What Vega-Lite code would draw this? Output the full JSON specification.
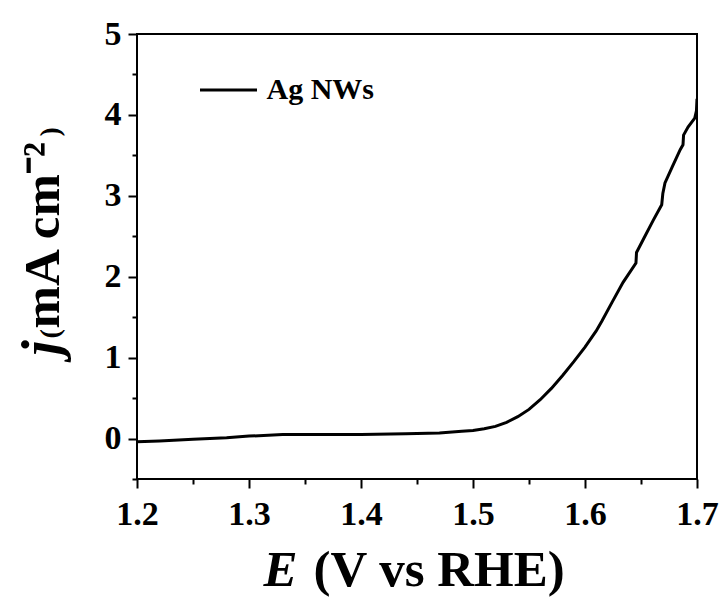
{
  "$schema": "https://vega.github.io/schema/vega-lite/v6.json",
  "width": 560,
  "height": 445,
  "autosize": "none",
  "padding": {"left": 137, "top": 34, "right": 24, "bottom": 122},
  "background": "white",
  "config": {
    "font": "Liberation Serif",
    "view": {"stroke": "black", "strokeWidth": 2},
    "axis": {
      "domain": false,
      "grid": false,
      "tickColor": "black",
      "tickWidth": 2,
      "labelFont": "Liberation Serif",
      "labelFontWeight": "bold",
      "labelColor": "black",
      "labelFlush": false,
      "labelOverlap": false,
      "labelBound": false,
      "titleFont": "Liberation Serif",
      "titleFontWeight": "bold",
      "titleColor": "black"
    }
  },
  "data": {
    "values": [
      {"E_V": 1.20, "j": -0.04, "series": "Ag NWs"},
      {"E_V": 1.22, "j": -0.03, "series": "Ag NWs"},
      {"E_V": 1.25, "j": -0.01, "series": "Ag NWs"},
      {"E_V": 1.28, "j": 0.01, "series": "Ag NWs"},
      {"E_V": 1.30, "j": 0.03, "series": "Ag NWs"},
      {"E_V": 1.33, "j": 0.05, "series": "Ag NWs"},
      {"E_V": 1.36, "j": 0.05, "series": "Ag NWs"},
      {"E_V": 1.40, "j": 0.05, "series": "Ag NWs"},
      {"E_V": 1.44, "j": 0.06, "series": "Ag NWs"},
      {"E_V": 1.47, "j": 0.07, "series": "Ag NWs"},
      {"E_V": 1.49, "j": 0.09, "series": "Ag NWs"},
      {"E_V": 1.50, "j": 0.10, "series": "Ag NWs"},
      {"E_V": 1.51, "j": 0.12, "series": "Ag NWs"},
      {"E_V": 1.52, "j": 0.15, "series": "Ag NWs"},
      {"E_V": 1.53, "j": 0.20, "series": "Ag NWs"},
      {"E_V": 1.54, "j": 0.27, "series": "Ag NWs"},
      {"E_V": 1.55, "j": 0.36, "series": "Ag NWs"},
      {"E_V": 1.56, "j": 0.48, "series": "Ag NWs"},
      {"E_V": 1.57, "j": 0.62, "series": "Ag NWs"},
      {"E_V": 1.58, "j": 0.78, "series": "Ag NWs"},
      {"E_V": 1.59, "j": 0.95, "series": "Ag NWs"},
      {"E_V": 1.60, "j": 1.13, "series": "Ag NWs"},
      {"E_V": 1.61, "j": 1.33, "series": "Ag NWs"},
      {"E_V": 1.615, "j": 1.45, "series": "Ag NWs"},
      {"E_V": 1.624, "j": 1.68, "series": "Ag NWs"},
      {"E_V": 1.634, "j": 1.93, "series": "Ag NWs"},
      {"E_V": 1.6455, "j": 2.17, "series": "Ag NWs"},
      {"E_V": 1.646, "j": 2.30, "series": "Ag NWs"},
      {"E_V": 1.652, "j": 2.46, "series": "Ag NWs"},
      {"E_V": 1.661, "j": 2.70, "series": "Ag NWs"},
      {"E_V": 1.6685, "j": 2.89, "series": "Ag NWs"},
      {"E_V": 1.6695, "j": 3.03, "series": "Ag NWs"},
      {"E_V": 1.6714, "j": 3.16, "series": "Ag NWs"},
      {"E_V": 1.678, "j": 3.36, "series": "Ag NWs"},
      {"E_V": 1.685, "j": 3.57, "series": "Ag NWs"},
      {"E_V": 1.6875, "j": 3.63, "series": "Ag NWs"},
      {"E_V": 1.688, "j": 3.75, "series": "Ag NWs"},
      {"E_V": 1.692, "j": 3.85, "series": "Ag NWs"},
      {"E_V": 1.698, "j": 3.96, "series": "Ag NWs"},
      {"E_V": 1.6995, "j": 4.05, "series": "Ag NWs"},
      {"E_V": 1.700, "j": 4.20, "series": "Ag NWs"}
    ]
  },
  "layer": [
    {
      "mark": {"type": "line", "strokeWidth": 3, "clip": true},
      "encoding": {
        "x": {
          "field": "E_V",
          "type": "quantitative",
          "scale": {"domain": [1.2, 1.7], "nice": false, "zero": false},
          "axis": {
            "orient": "bottom",
            "values": [1.2, 1.3, 1.4, 1.5, 1.6, 1.7],
            "format": ".1f",
            "tickSize": 9,
            "labelFontSize": 34,
            "labelPadding": 9,
            "title": "(V vs RHE)",
            "titleFontSize": 51,
            "titleAlign": "left",
            "titleBaseline": "alphabetic",
            "titleX": 176,
            "titleY": 106
          }
        },
        "y": {
          "field": "j",
          "type": "quantitative",
          "scale": {"domain": [-0.5, 5], "nice": false, "zero": false},
          "axis": {
            "orient": "left",
            "values": [0, 1, 2, 3, 4, 5],
            "format": "d",
            "tickSize": 9,
            "labelFontSize": 34,
            "labelPadding": 7,
            "title": "mA cm⁻²",
            "titleFontSize": 51,
            "titleAngle": 270,
            "titleAlign": "left",
            "titleBaseline": "alphabetic",
            "titleX": -79,
            "titleY": 294
          }
        },
        "color": {
          "field": "series",
          "type": "nominal",
          "scale": {"range": ["black"]},
          "legend": {
            "orient": "none",
            "legendX": 61.5,
            "legendY": 26,
            "title": null,
            "padding": 0,
            "symbolType": "stroke",
            "symbolSize": 3249,
            "symbolStrokeWidth": 3,
            "labelFont": "Liberation Serif",
            "labelFontSize": 30,
            "labelFontWeight": "bold",
            "labelColor": "black",
            "labelOffset": 8
          }
        }
      }
    },
    {
      "mark": {"type": "point", "opacity": 0},
      "encoding": {
        "x": {
          "field": "E_V",
          "type": "quantitative",
          "scale": {"domain": [1.2, 1.7], "nice": false, "zero": false},
          "axis": {
            "orient": "bottom",
            "values": [1.25, 1.35, 1.45, 1.55, 1.65],
            "tickSize": 5,
            "labels": false,
            "title": "E",
            "titleFontSize": 51,
            "titleFontStyle": "italic",
            "titleAlign": "left",
            "titleBaseline": "alphabetic",
            "titleX": 126,
            "titleY": 106
          }
        },
        "y": {
          "field": "j",
          "type": "quantitative",
          "scale": {"domain": [-0.5, 5], "nice": false, "zero": false},
          "axis": {
            "orient": "left",
            "values": [-0.5, 0.5, 1.5, 2.5, 3.5, 4.5],
            "tickSize": 5,
            "labels": false,
            "title": "j",
            "titleFontSize": 54,
            "titleFontStyle": "italic",
            "titleAngle": 270,
            "titleAlign": "left",
            "titleBaseline": "alphabetic",
            "titleX": -79,
            "titleY": 321
          }
        }
      }
    },
    {
      "mark": {"type": "point", "opacity": 0},
      "encoding": {
        "x": {
          "field": "E_V",
          "type": "quantitative",
          "scale": {"domain": [1.2, 1.7], "nice": false, "zero": false},
          "axis": {
            "orient": "bottom",
            "ticks": false,
            "labels": false,
            "title": ")",
            "titleFontSize": 28,
            "titleAngle": 270,
            "titleAlign": "left",
            "titleBaseline": "alphabetic",
            "titleX": -79,
            "titleY": -343
          }
        },
        "y": {
          "field": "j",
          "type": "quantitative",
          "scale": {"domain": [-0.5, 5], "nice": false, "zero": false},
          "axis": {
            "orient": "left",
            "ticks": false,
            "labels": false,
            "title": "(",
            "titleFontSize": 28,
            "titleAngle": 270,
            "titleAlign": "left",
            "titleBaseline": "alphabetic",
            "titleX": -79,
            "titleY": 304
          }
        }
      }
    }
  ],
  "resolve": {"axis": {"x": "independent", "y": "independent"}}
}
